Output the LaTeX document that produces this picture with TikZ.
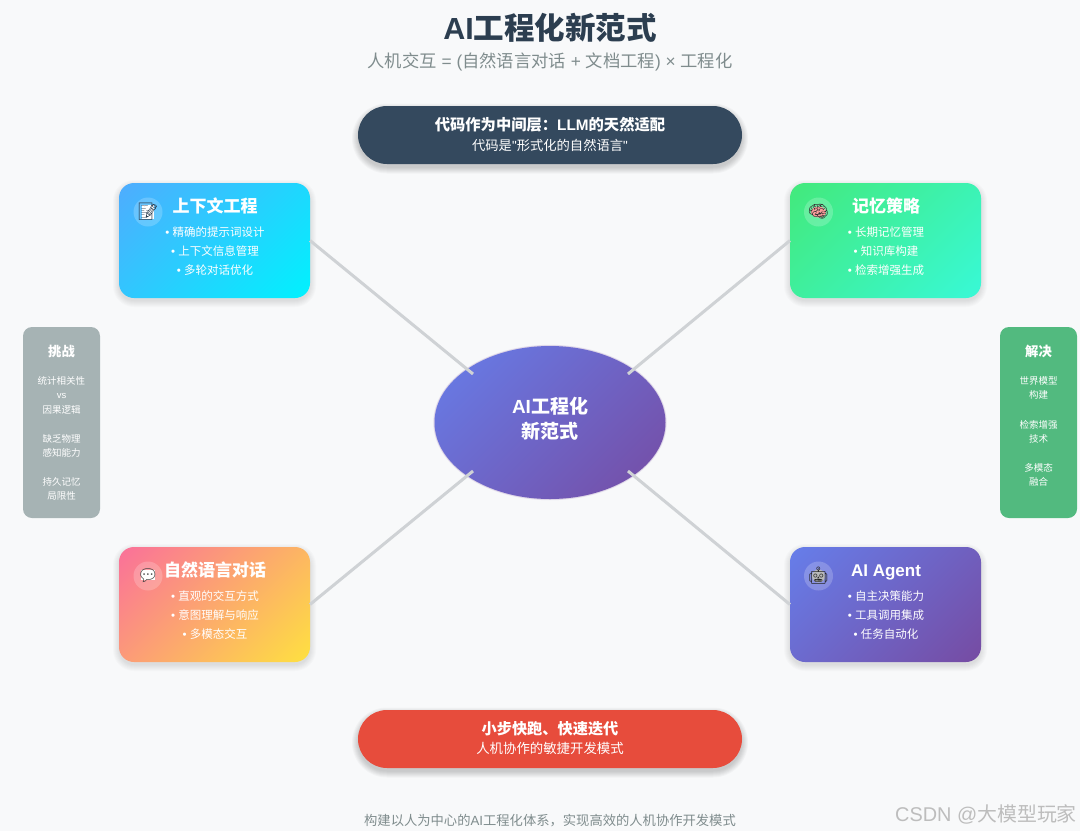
\documentclass[tikz,border=0pt]{standalone}
\usepackage{fontspec}
\usetikzlibrary{calc,shapes.geometric}
\setmainfont{Noto Sans CJK SC}
\newfontfamily\lat{Liberation Sans}
\newfontfamily\emo{Noto Emoji}
\definecolor{pagebg}{HTML}{F8F9FA}
\definecolor{ink}{HTML}{2C3E50}
\definecolor{muted}{HTML}{7F8C8D}
\definecolor{navy}{HTML}{34495E}
\definecolor{redp}{HTML}{E74C3C}
\definecolor{greyside}{HTML}{A6B3B4}
\definecolor{greenside}{HTML}{52BA7F}
\definecolor{linkc}{HTML}{CFD2D5}
\definecolor{ga1}{HTML}{4FACFE}\definecolor{ga2}{HTML}{00F2FE}
\definecolor{gb1}{HTML}{43E97B}\definecolor{gb2}{HTML}{38F9D7}
\definecolor{gc1}{HTML}{FA709A}\definecolor{gc2}{HTML}{FEE140}
\definecolor{gd1}{HTML}{667EEA}\definecolor{gd2}{HTML}{764BA2}
\definecolor{wmark}{HTML}{BDBDBD}
\tikzset{
  gradfill/.style n args={3}{
    path picture={
      \begin{scope}[transform canvas={rotate around={-45:(path picture bounding box.center)}}]
        \shade[left color=#1,right color=#2]
          ($(path picture bounding box.center)+(-#3,-#3)$) rectangle
          ($(path picture bounding box.center)+(#3,#3)$);
      \end{scope}
    }
  },
  boxbase/.style={rectangle,inner sep=0pt,outer sep=0pt},
  cardbox/.style n args={2}{boxbase,minimum width=191pt,minimum height=115pt,rounded corners=15pt,
    gradfill={#1}{#2}{108.2}},
  pillbox/.style={boxbase,minimum width=384pt,minimum height=58pt,rounded corners=29pt},
  sidebox/.style={boxbase,minimum width=77pt,minimum height=191pt,rounded corners=9pt},
  hubnode/.style={ellipse,inner sep=0pt,outer sep=0pt,minimum width=231pt,minimum height=153pt,
    gradfill={gd1}{gd2}{135.8}},
  iconbg/.style={circle,inner sep=0pt,minimum size=29pt,fill=white,fill opacity=.2},
  link/.style={draw=linkc,line width=3pt},
  lbl/.style={inner sep=0pt,outer sep=0pt,anchor=base,align=center},
  wt/.style={lbl,text=white},
}
\newcommand{\tx}[6][wt]{\node[#1,font=\fontsize{#5}{#5}\selectfont] (#2) at (#3,{#4+.38*#5}) {#6};}
\newcommand{\txb}[6][wt]{\node[#1,font=\fontsize{#5}{#5}\selectfont\bfseries] (#2) at (#3,{#4+.38*#5}) {#6};}
% soft shadow: centre x, centre y, half width, half height, radius, opacity
\newcommand{\softbox}[6]{%
  \foreach \k in {6,5,4,3,2,1,0}{%
    \fill[black,fill opacity=#6,rounded corners={(#5+\k)*1pt}]
      ({#1-#3-\k},{#2-#4-\k}) rectangle ({#1+#3+\k},{#2+#4+\k});}}
\begin{document}
\begin{tikzpicture}[x=1pt,y=-1pt]
\useasboundingbox (0,0) rectangle (1080,831);
\fill[pagebg] (0,0) rectangle (1080,831);

% shadows
\softbox{214.5}{243.5}{95.5}{57.5}{15}{.015}
\softbox{885.5}{243.5}{95.5}{57.5}{15}{.015}
\softbox{214.5}{607.5}{95.5}{57.5}{15}{.015}
\softbox{885.5}{607.5}{95.5}{57.5}{15}{.015}
\softbox{550}{138.5}{192}{29}{29}{.028}
\softbox{550}{742.5}{192}{29}{29}{.028}
\foreach \k in {1.2,.6}{\fill[gd2,fill opacity=.13] (550,422.5) ellipse [x radius={115.5+\k},y radius={76.5+\k}];}

% cards and hub
\node[cardbox={ga1}{ga2}] (card1) at (214.5,240.5) {};
\node[cardbox={gb1}{gb2}] (card2) at (885.5,240.5) {};
\node[cardbox={gc1}{gc2}] (card3) at (214.5,604.5) {};
\node[cardbox={gd1}{gd2}] (card4) at (885.5,604.5) {};
\node[hubnode] (hub) at (550,422.5) {};

% connectors
\coordinate (hubnw) at ($(hub.center)+(-77,-48.5)$);
\coordinate (hubne) at ($(hub.center)+(78,-48.5)$);
\coordinate (hubsw) at ($(hub.center)+(-77,48.5)$);
\coordinate (hubse) at ($(hub.center)+(78,48.5)$);
\draw[link] (card1.east) -- (hubnw);
\draw[link] (card2.west) -- (hubne);
\draw[link] (card3.east) -- (hubsw);
\draw[link] (card4.west) -- (hubse);

% title
\txb[lbl,text=ink]{title}{550}{28}{30.5}{{\lat AI}工程化新范式}
\tx[lbl,text=muted]{subtitle}{550}{61}{17.3}{人机交互{\lat\ = (}自然语言对话{\lat\ + }文档工程{\lat)\ ×\ }工程化}

% pills
\node[pillbox,fill=navy] (pilltop) at (550,135) {};
\txb{pilltopa}{550}{124.5}{15.3}{代码作为中间层：{\lat LLM}的天然适配}
\tx{pilltopb}{550}{145}{13.3}{代码是{\lat "}形式化的自然语言{\lat "}}
\node[pillbox,fill=redp] (pillbot) at (550,739) {};
\txb{pillbota}{550}{729}{15.2}{小步快跑、快速迭代}
\tx{pillbotb}{550}{748}{13.4}{人机协作的敏捷开发模式}

% icons
\node[iconbg] (ic1) at (148,212) {};
\node[iconbg] (ic2) at (818.5,212) {};
\node[iconbg] (ic3) at (148,576) {};
\node[iconbg] (ic4) at (818.5,576) {};
\node[boxbase,fill=white,minimum width=12pt,minimum height=14pt] (ic1b) at (147.5,212) {};
\node[ellipse,fill=pink!60!red!70,inner sep=0pt,minimum width=15pt,minimum height=11pt] (ic2b) at (818.5,212) {};
\node[boxbase,fill=white,minimum width=14pt,minimum height=10pt] (ic3b) at (148,575) {};
\node[circle,fill=gray!55,inner sep=0pt,minimum size=13pt] (ic4b) at (818.5,576) {};
\node[lbl,anchor=center,text=ink,font=\fontsize{17}{17}\selectfont\emo] (ic1t) at (ic1) {📝};
\node[lbl,anchor=center,text=black!80,font=\fontsize{17}{17}\selectfont\emo] (ic2t) at (ic2) {🧠};
\node[lbl,anchor=center,text=black!75,font=\fontsize{17}{17}\selectfont\emo] (ic3t) at (ic3) {💬};
\node[lbl,anchor=center,text=black!85,font=\fontsize{17}{17}\selectfont\emo] (ic4t) at (ic4) {🤖};

% card text
\txb{t1}{215}{206}{17}{上下文工程}
\tx{t1a}{215}{232}{11.5}{{\lat•\ }精确的提示词设计}
\tx{t1b}{215}{251}{11.5}{{\lat•\ }上下文信息管理}
\tx{t1c}{215}{270}{11.5}{{\lat•\ }多轮对话优化}

\txb{t2}{886}{206}{17}{记忆策略}
\tx{t2a}{886}{232}{11.5}{{\lat•\ }长期记忆管理}
\tx{t2b}{886}{251}{11.5}{{\lat•\ }知识库构建}
\tx{t2c}{886}{270}{11.5}{{\lat•\ }检索增强生成}

\txb{t3}{215}{570}{17}{自然语言对话}
\tx{t3a}{215}{596}{11.5}{{\lat•\ }直观的交互方式}
\tx{t3b}{215}{615}{11.5}{{\lat•\ }意图理解与响应}
\tx{t3c}{215}{634}{11.5}{{\lat•\ }多模态交互}

\node[wt,font=\fontsize{17}{17}\selectfont\bfseries\lat] (t4) at (886,576.5) {AI Agent};
\tx{t4a}{886}{596}{11.5}{{\lat•\ }自主决策能力}
\tx{t4b}{886}{615}{11.5}{{\lat•\ }工具调用集成}
\tx{t4c}{886}{634}{11.5}{{\lat•\ }任务自动化}

% hub text
\txb{h1}{550}{406}{19}{{\lat AI}工程化}
\txb{h2}{550}{431}{19}{新范式}

% side panels
\node[sidebox,fill=greyside] (sideL) at (61.5,422.5) {};
\txb{sl0}{61.5}{351}{13.3}{挑战}
\tx{sl1}{61.5}{381}{9.5}{统计相关性}
\node[wt,font=\fontsize{9.5}{9.5}\selectfont\lat] (sl2) at (61.5,398) {vs};
\tx{sl3}{61.5}{409.5}{9.5}{因果逻辑}
\tx{sl4}{61.5}{439}{9.5}{缺乏物理}
\tx{sl5}{61.5}{453}{9.5}{感知能力}
\tx{sl6}{61.5}{482}{9.5}{持久记忆}
\tx{sl7}{61.5}{496}{9.5}{局限性}

\node[sidebox,fill=greenside] (sideR) at (1038.5,422.5) {};
\txb{sr0}{1038.5}{351}{13.3}{解决}
\tx{sr1}{1038.5}{381}{9.5}{世界模型}
\tx{sr2}{1038.5}{395}{9.5}{构建}
\tx{sr3}{1038.5}{424.5}{9.5}{检索增强}
\tx{sr4}{1038.5}{438.5}{9.5}{技术}
\tx{sr5}{1038.5}{467.5}{9.5}{多模态}
\tx{sr6}{1038.5}{482}{9.5}{融合}

% footer
\tx[lbl,text=muted]{foot}{550}{820}{13.3}{构建以人为中心的{\lat AI}工程化体系，实现高效的人机协作开发模式}
\tx[lbl,text=wmark]{wm}{986}{814}{19.9}{{\lat CSDN @}大模型玩家}
\end{tikzpicture}
\end{document}
